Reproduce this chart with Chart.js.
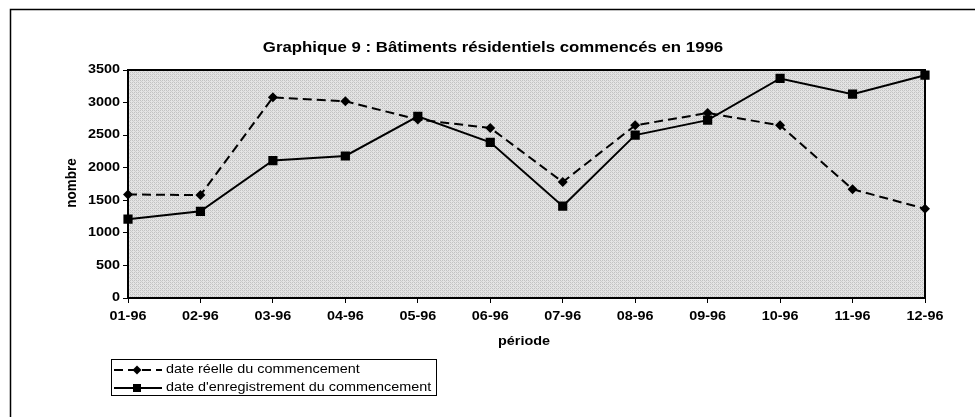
<!DOCTYPE html>
<html>
<head>
<meta charset="utf-8">
<script src="https://cdn.jsdelivr.net/npm/chart.js@4/dist/chart.umd.min.js"></script>
<style>
  html, body { margin: 0; padding: 0; background: #fff; }
  #wrap { width: 975px; height: 417px; }
</style>
</head>
<body>
<div id="wrap"><canvas id="c" width="975" height="417"></canvas></div>
<script>
// Data
const periods = ["01-96", "02-96", "03-96", "04-96", "05-96", "06-96",
                 "07-96", "08-96", "09-96", "10-96", "11-96", "12-96"];
const reelle = [1590, 1580, 3080, 3020, 2740, 2610, 1780, 2650, 2840, 2650, 1670, 1370];
const enregistrement = [1210, 1330, 2110, 2180, 2790, 2390, 1410, 2500, 2730, 3370, 3130, 3420];
const yTicks = [0, 500, 1000, 1500, 2000, 2500, 3000, 3500];

const titleText = "Graphique 9 : Bâtiments résidentiels commencés en 1996";
const yTitle = "nombre";
const xTitle = "période";
const legendLabels = ["date réelle du commencement", "date d'enregistrement du commencement"];

const FONT = "'Liberation Sans', Arial, sans-serif";
const STRETCH = 1.2; // the scan is wider than tall

// text squeezed/stretched horizontally like the scanned original
function drawText(ctx, text, x, y, align, font, sx) {
  ctx.save();
  ctx.font = font;
  ctx.textAlign = align;
  ctx.textBaseline = "middle";
  ctx.translate(x, y);
  ctx.scale(sx || STRETCH, 1);
  ctx.fillText(text, 0, 0);
  ctx.restore();
}

function makeHatch(ctx) {
  const p = document.createElement("canvas");
  p.width = 4; p.height = 4;
  const g = p.getContext("2d");
  g.fillStyle = "#e4e4e4";
  g.fillRect(0, 0, 4, 4);
  g.fillStyle = "#c2c2c2";
  g.fillRect(0, 0, 1, 1);
  g.fillRect(2, 2, 1, 1);
  g.fillRect(2, 0, 1, 1);
  g.fillRect(0, 2, 1, 1);
  g.fillStyle = "#d0d0d0";
  g.fillRect(1, 1, 1, 1);
  g.fillRect(3, 3, 1, 1);
  return ctx.createPattern(p, "repeat");
}

const decor = {
  id: "decor",
  beforeDraw(chart) {
    const { ctx, chartArea: a } = chart;
    ctx.save();
    ctx.fillStyle = makeHatch(ctx);
    ctx.fillRect(a.left, a.top, a.right - a.left, a.bottom - a.top);
    ctx.restore();
  },
  beforeDatasetsDraw(chart) {
    const { ctx, chartArea: a } = chart;
    ctx.save();
    ctx.strokeStyle = "#000";
    ctx.lineWidth = 2;
    ctx.strokeRect(a.left, a.top, a.right - a.left, a.bottom - a.top);
    ctx.restore();
  },
  afterDraw(chart) {
    const { ctx, scales } = chart;
    ctx.save();
    // outer frame (left and top only)
    ctx.strokeStyle = "#000";
    ctx.lineWidth = 1.5;
    ctx.beginPath();
    ctx.moveTo(10.5, 417);
    ctx.lineTo(10.5, 9.5);
    ctx.lineTo(975, 9.5);
    ctx.stroke();
    ctx.fillStyle = "#000";

    // tick labels
    scales.y.ticks.forEach(t => {
      drawText(ctx, String(t.value), 120, scales.y.getPixelForValue(t.value), "right", "bold 12px " + FONT);
    });
    periods.forEach((p, i) => {
      drawText(ctx, p, scales.x.getPixelForValue(i), 317, "center", "bold 12px " + FONT);
    });

    drawText(ctx, titleText, 493, 48, "center", "bold 15px " + FONT, 1.12);
    drawText(ctx, xTitle, 524, 342, "center", "bold 12px " + FONT);

    ctx.save();
    ctx.translate(72, 183);
    ctx.rotate(-Math.PI / 2);
    ctx.font = "bold 12px " + FONT;
    ctx.textAlign = "center";
    ctx.textBaseline = "middle";
    ctx.scale(1.12, 1.15);
    ctx.fillText(yTitle, 0, 0);
    ctx.restore();

    // legend
    const lx = 111.5, ly = 359.5, lw = 325, lh = 36;
    ctx.strokeStyle = "#000";
    ctx.lineWidth = 1;
    ctx.strokeRect(lx, ly, lw, lh);
    const rows = [370, 388];
    chart.data.datasets.forEach((ds, i) => {
      const y = rows[i];
      ctx.lineWidth = 2;
      ctx.setLineDash(ds.borderDash || []);
      ctx.beginPath();
      ctx.moveTo(114, y);
      ctx.lineTo(162, y);
      ctx.stroke();
      ctx.setLineDash([]);
      if (ds.pointStyle === "rectRot") {
        ctx.beginPath();
        ctx.moveTo(137, y - 4.5);
        ctx.lineTo(141.5, y);
        ctx.lineTo(137, y + 4.5);
        ctx.lineTo(132.5, y);
        ctx.closePath();
        ctx.fill();
      } else {
        ctx.fillRect(133, y - 4, 8, 8);
      }
      drawText(ctx, legendLabels[i], 166, y, "left", "12px " + FONT);
    });
    ctx.restore();
  }
};

new Chart(document.getElementById("c"), {
  type: "line",
  data: {
    labels: periods,
    datasets: [
      {
        label: legendLabels[0],
        data: reelle,
        borderColor: "#000",
        backgroundColor: "#000",
        borderWidth: 2,
        borderDash: [9, 5],
        pointStyle: "rectRot",
        pointRadius: 5,
        pointBorderWidth: 0,
        tension: 0
      },
      {
        label: legendLabels[1],
        data: enregistrement,
        borderColor: "#000",
        backgroundColor: "#000",
        borderWidth: 2,
        pointStyle: "rect",
        pointRadius: 6.5,
        pointBorderWidth: 0,
        tension: 0
      }
    ]
  },
  options: {
    responsive: false,
    animation: false,
    layout: { padding: { top: 70, left: 0, right: 50, bottom: 0 } },
    plugins: {
      legend: { display: false },
      title: { display: false },
      tooltip: { enabled: false }
    },
    scales: {
      x: {
        offset: false,
        grid: { drawOnChartArea: false, color: "#000", tickLength: 5, lineWidth: 1 },
        border: { color: "#000", width: 2 },
        ticks: { display: false, autoSkip: false },
        afterFit: (s) => { s.height = 119; }
      },
      y: {
        min: 0,
        max: 3500,
        afterBuildTicks: (s) => { s.ticks = yTicks.map(v => ({ value: v })); },
        grid: { drawOnChartArea: false, color: "#000", tickLength: 5, lineWidth: 1 },
        border: { color: "#000", width: 2 },
        ticks: { display: false },
        afterFit: (s) => { s.width = 128; }
      }
    }
  },
  plugins: [decor]
});
</script>
</body>
</html>
